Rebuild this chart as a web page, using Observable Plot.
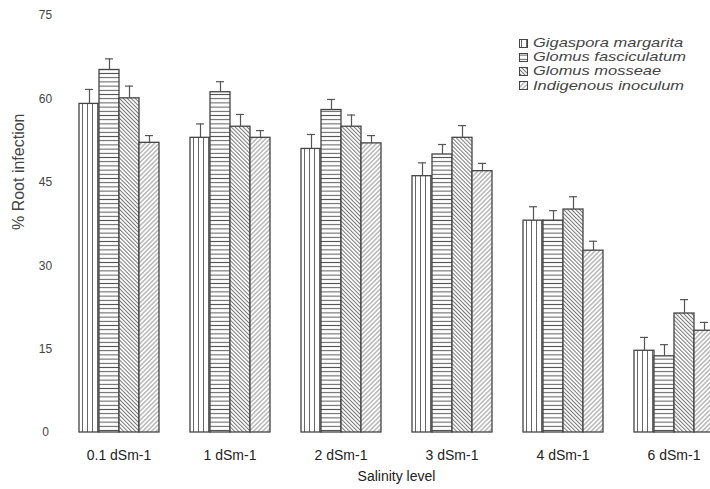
<!DOCTYPE html>
<html>
<head>
<meta charset="utf-8">
<script src="https://cdn.jsdelivr.net/npm/d3@7"></script>
<script src="https://cdn.jsdelivr.net/npm/@observablehq/plot@0.6"></script>
<style>
  body { margin: 0; background: #fff; }
  #wrap { position: relative; width: 710px; height: 489px; overflow: hidden; }
  #legend { position: absolute; left: 519px; top: 36px; font-family: "Liberation Sans", Arial, sans-serif; font-style: italic; font-size: 13.5px; color: #444; }
  #legend .row { height: 14.2px; line-height: 14.2px; white-space: nowrap; display: flex; align-items: center; }
  #legend svg { flex: none; margin-right: 5px; }
  #legend span { display: inline-block; transform: scaleX(1.22); transform-origin: left center; }
</style>
</head>
<body>
<svg width="0" height="0" style="position:absolute">
  <defs>
    <pattern id="pVert" patternUnits="userSpaceOnUse" width="5" height="10">
      <rect width="5" height="10" fill="#fff"/>
      <line x1="2.5" y1="0" x2="2.5" y2="10" stroke="#666" stroke-width="1"/>
    </pattern>
    <pattern id="pHorz" patternUnits="userSpaceOnUse" width="10" height="4.2">
      <rect width="10" height="4.2" fill="#fff"/>
      <line x1="0" y1="2.1" x2="10" y2="2.1" stroke="#555" stroke-width="1"/>
    </pattern>
    <pattern id="pBack" patternUnits="userSpaceOnUse" width="2.8" height="10" patternTransform="rotate(-45)">
      <rect width="2.8" height="10" fill="#fff"/>
      <line x1="1.4" y1="0" x2="1.4" y2="10" stroke="#777" stroke-width="1"/>
    </pattern>
    <pattern id="pFwd" patternUnits="userSpaceOnUse" width="3.2" height="10" patternTransform="rotate(45)">
      <rect width="3.2" height="10" fill="#fff"/>
      <line x1="1.6" y1="0" x2="1.6" y2="10" stroke="#888" stroke-width="0.9"/>
    </pattern>
  </defs>
</svg>
<div id="wrap"><div id="chart"></div><div id="legend"></div></div>
<script>
const salinity = ["0.1 dSm-1", "1 dSm-1", "2 dSm-1", "3 dSm-1", "4 dSm-1", "6 dSm-1"];
const species = ["Gigaspora margarita", "Glomus fasciculatum", "Glomus mosseae", "Indigenous inoculum"];
const gigaspora    = [59.1, 53.0, 51.0, 46.1, 38.1, 14.7];
const fasciculatum = [65.2, 61.2, 58.0, 50.0, 38.1, 13.7];
const mosseae      = [60.1, 55.0, 55.0, 53.0, 40.1, 21.4];
const indigenous   = [52.1, 53.0, 52.0, 47.0, 32.7, 18.3];
const errGigaspora    = [2.6, 2.5, 2.6, 2.4, 2.5, 2.4];
const errFasciculatum = [2.0, 1.9, 1.9, 1.8, 1.8, 2.1];
const errMosseae      = [2.2, 2.2, 2.1, 2.2, 2.3, 2.5];
const errIndigenous   = [1.3, 1.3, 1.4, 1.4, 1.7, 1.5];
const yTicks = [0, 15, 30, 45, 60, 75];
const patterns = ["url(#pVert)", "url(#pHorz)", "url(#pBack)", "url(#pFwd)"];

const values = [gigaspora, fasciculatum, mosseae, indigenous];
const errors = [errGigaspora, errFasciculatum, errMosseae, errIndigenous];
const data = salinity.flatMap((s, i) => species.map((sp, j) => ({
  salinity: s, species: sp, value: values[j][i], err: errors[j][i]
})));

const chart = Plot.plot({
  width: 710,
  height: 489,
  marginTop: 15,
  marginBottom: 57,
  marginLeft: 63,
  marginRight: 0,
  style: { fontFamily: "'Liberation Sans', Arial, sans-serif", background: "#fff", color: "#333" },
  fx: { domain: salinity, range: [63, 729], paddingInner: 0.27, paddingOuter: 0.135 },
  x: { domain: species, padding: 0, axis: null },
  y: { domain: [0, 75] },
  color: { type: "ordinal", domain: species, range: patterns },
  marks: [
    Plot.barY(data, { fx: "salinity", x: "species", y: "value", fill: "species", stroke: "#444", strokeWidth: 1.3 }),
    Plot.ruleX(data, { fx: "salinity", x: "species", y1: "value", y2: d => d.value + d.err, stroke: "#555", strokeWidth: 1.2 }),
    Plot.tickY(data, { fx: "salinity", x: "species", y: d => d.value + d.err, insetLeft: 6, insetRight: 6, stroke: "#555", strokeWidth: 1.2 }),
    Plot.axisY(yTicks, { tickSize: 0, tickPadding: 33, textAnchor: "middle", fontSize: 12, fill: "#444", label: null }),
    Plot.text(["% Root infection"], { fx: () => salinity[0], frameAnchor: "left", rotate: -90, dx: -60, dy: 6, fontSize: 16, fill: "#444" }),
    Plot.axisFx({ anchor: "bottom", tickSize: 0, tickPadding: 18, fontSize: 14, fill: "#222", label: "Salinity level", labelAnchor: "center", labelOffset: 48 })
  ]
});
document.getElementById("chart").appendChild(chart);

const legend = document.getElementById("legend");
species.forEach((sp, j) => {
  const row = document.createElement("div");
  row.className = "row";
  row.innerHTML = `<svg width="9" height="9"><rect x="0.5" y="0.5" width="8" height="8" fill="${patterns[j]}" stroke="#444" stroke-width="1"/></svg><span>${sp}</span>`;
  legend.appendChild(row);
});
</script>
</body>
</html>
